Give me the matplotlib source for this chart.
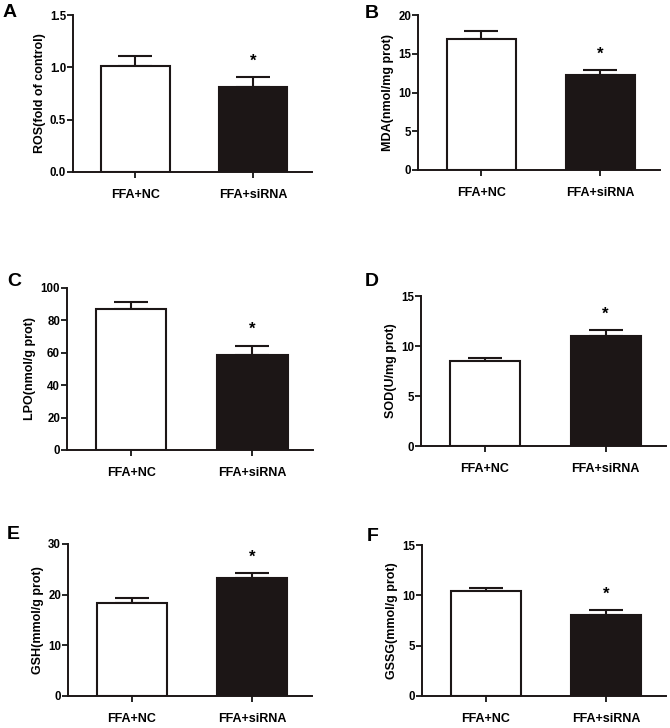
import matplotlib
matplotlib.use('Agg')
import matplotlib.pyplot as plt
from matplotlib import font_manager as fm

groups = ['FFA+NC', 'FFA+siRNA']
letters = ['A', 'B', 'C', 'D', 'E', 'F']
ylabels = ['ROS(fold of control)', 'MDA(nmol/mg prot)', 'LPO(nmol/g prot)',
           'SOD(U/mg prot)', 'GSH(mmol/g prot)', 'GSSG(mmol/g prot)']
means = [[1.01, 0.81], [16.9, 12.3], [87.0, 58.6],
         [8.53, 11.03], [18.3, 23.2], [10.42, 8.07]]
errs = [[0.10, 0.10], [1.1, 0.6], [4.1, 5.9],
        [0.24, 0.54], [1.1, 1.0], [0.33, 0.49]]
ymax = [1.5, 20, 100, 15, 30, 15]
yticks = [[0.0, 0.5, 1.0, 1.5], [0, 5, 10, 15, 20], [0, 20, 40, 60, 80, 100],
          [0, 5, 10, 15], [0, 10, 20, 30], [0, 5, 10, 15]]
yfmt = ['{:.1f}', '{:d}', '{:d}', '{:d}', '{:d}', '{:d}']

# keep the narrow variant of Liberation Sans out of the font lookup
fm.fontManager.ttflist = [f for f in fm.fontManager.ttflist
                          if 'Narrow' not in f.fname]
plt.rcParams['font.family'] = ['Liberation Sans', 'DejaVu Sans']
plt.rcParams['font.weight'] = 'bold'

W, H = 670, 728
fig = plt.figure(figsize=(W / 100, H / 100), dpi=100)

# axes boxes in pixels: left, right, top, bottom
boxes = [(73, 312, 15, 172), (418, 660, 15, 170),
         (67, 313, 288, 450), (421, 666, 296, 446),
         (68, 312, 544, 696), (422, 666, 545, 696)]
letter_pos = [(3, 17), (365, 18), (7, 286), (365, 286), (7, 539), (367, 541)]

for i in range(6):
    l, r, t, b = boxes[i]
    ax = fig.add_axes([l / W, 1 - b / H, (r - l) / W, (b - t) / H])
    x = [0, 1]
    ax.bar(x, means[i], width=0.58, color=['white', '#1c1616'],
           edgecolor='#1c1616', linewidth=1.5, zorder=2)
    ax.errorbar(x, means[i], yerr=[[0, 0], errs[i]], fmt='none',
                ecolor='#1c1616', elinewidth=1.5, capsize=12, capthick=1.5, zorder=1)
    top = means[i][1] + errs[i][1]
    ax.annotate('*', (1, top), xytext=(0, 6), textcoords='offset points',
                ha='center', va='bottom', fontsize=12, fontweight='bold')
    ax.set_xlim(-0.53, 1.5)
    ax.set_ylim(0, ymax[i])
    ax.set_yticks(yticks[i])
    ax.set_yticklabels([yfmt[i].format(v) for v in yticks[i]])
    ax.set_xticks(x)
    ax.set_xticklabels(groups)
    ax.set_ylabel(ylabels[i], fontsize=9, fontweight='bold', labelpad=3)
    for s in ['top', 'right']:
        ax.spines[s].set_visible(False)
    for s in ['left', 'bottom']:
        ax.spines[s].set_linewidth(1.4)
        ax.spines[s].set_color('#1c1616')
    ax.tick_params(axis='y', length=4, width=1.2, labelsize=8.3, pad=1)
    ax.tick_params(axis='x', length=4, width=1.2, labelsize=9, pad=8)
    fig.text(letter_pos[i][0] / W, 1 - letter_pos[i][1] / H, letters[i],
             fontsize=14, fontweight='bold', ha='left', va='baseline')

fig.savefig('out.png', dpi=100)
